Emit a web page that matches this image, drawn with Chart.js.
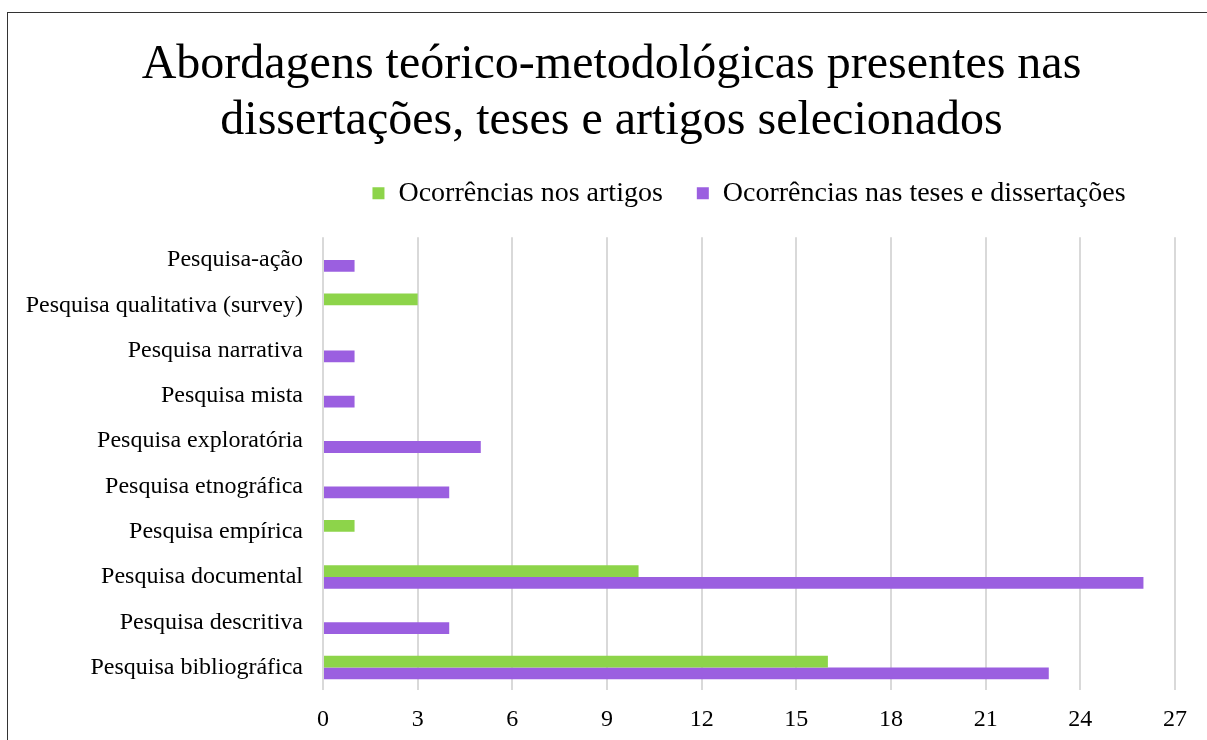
<!DOCTYPE html>
<html>
<head>
<meta charset="utf-8">
<script src="https://cdn.jsdelivr.net/npm/chart.js@4/dist/chart.umd.min.js"></script>
<style>
  html, body { margin: 0; padding: 0; background: #fff; overflow: hidden; width: 1207px; height: 740px; }
  #frame { position: absolute; left: 7px; top: 12px; width: 1210px; height: 760px; border: 1.5px solid #333; box-sizing: border-box; background: #fff; }
  #chart { display: block; }
</style>
</head>
<body>
<div id="frame"><canvas id="chart" width="1207" height="757"></canvas></div>
<script>
const categories = [
  'Pesquisa-ação',
  'Pesquisa qualitativa (survey)',
  'Pesquisa narrativa',
  'Pesquisa mista',
  'Pesquisa exploratória',
  'Pesquisa etnográfica',
  'Pesquisa empírica',
  'Pesquisa documental',
  'Pesquisa descritiva',
  'Pesquisa bibliográfica'
];
const artigos = [0, 3, 0, 0, 0, 0, 1, 10, 0, 16];
const tesesDissertacoes = [1, 0, 1, 1, 5, 4, 0, 26, 4, 23];
const xTicks = [0, 3, 6, 9, 12, 15, 18, 21, 24, 27];

const serif = "'Liberation Serif', 'Times New Roman', serif";

// Extra space between the legend row and the plot area
const legendGap = {
  id: 'legendGap',
  beforeInit(chart) {
    const fit = chart.legend.fit;
    chart.legend.fit = function () { fit.call(this); this.height += 20; };
  }
};

// Category labels run past the narrow y-axis box; widen its label clip region
const wideCategoryLabels = {
  id: 'wideCategoryLabels',
  afterLayout(chart) { chart.scales.y.left = 0; }
};

new Chart(document.getElementById('chart'), {
  type: 'bar',
  data: {
    labels: categories,
    datasets: [
      { label: 'Ocorrências nos artigos', data: artigos, backgroundColor: '#8DD44A' },
      { label: 'Ocorrências nas teses e dissertações', data: tesesDissertacoes, backgroundColor: '#9B5FE0' }
    ]
  },
  plugins: [legendGap, wideCategoryLabels],
  options: {
    indexAxis: 'y',
    responsive: false,
    animation: false,
    devicePixelRatio: 1,
    layout: { padding: { left: 40, right: 40, top: 0, bottom: 21 } },
    datasets: { bar: { barPercentage: 1.0, categoryPercentage: 0.52 } },
    plugins: {
      title: {
        display: true,
        text: ['Abordagens teórico-metodológicas presentes nas', 'dissertações, teses e artigos selecionados'],
        font: { family: serif, size: 48, weight: 'normal', lineHeight: 1.17 },
        color: '#000',
        padding: { top: 24, bottom: -4 }
      },
      legend: {
        display: true,
        position: 'top',
        fullSize: false,
        labels: {
          font: { family: serif, size: 28 },
          color: '#000',
          boxWidth: 12,
          boxHeight: 12,
          padding: 34
        }
      },
      tooltip: { enabled: false }
    },
    scales: {
      x: {
        min: 0,
        max: 27,
        afterBuildTicks: (axis) => { axis.ticks = xTicks.map(v => ({ value: v })); },
        grid: { color: '#d9d9d9', lineWidth: 2, drawTicks: false },
        border: { display: false },
        ticks: { font: { family: serif, size: 24 }, color: '#000', padding: 15 }
      },
      y: {
        afterFit: (axis) => { axis.width = 275; },
        grid: { display: false, drawTicks: false },
        border: { display: false },
        ticks: { font: { family: serif, size: 24 }, color: '#000', padding: 20 }
      }
    }
  }
});
</script>
</body>
</html>
